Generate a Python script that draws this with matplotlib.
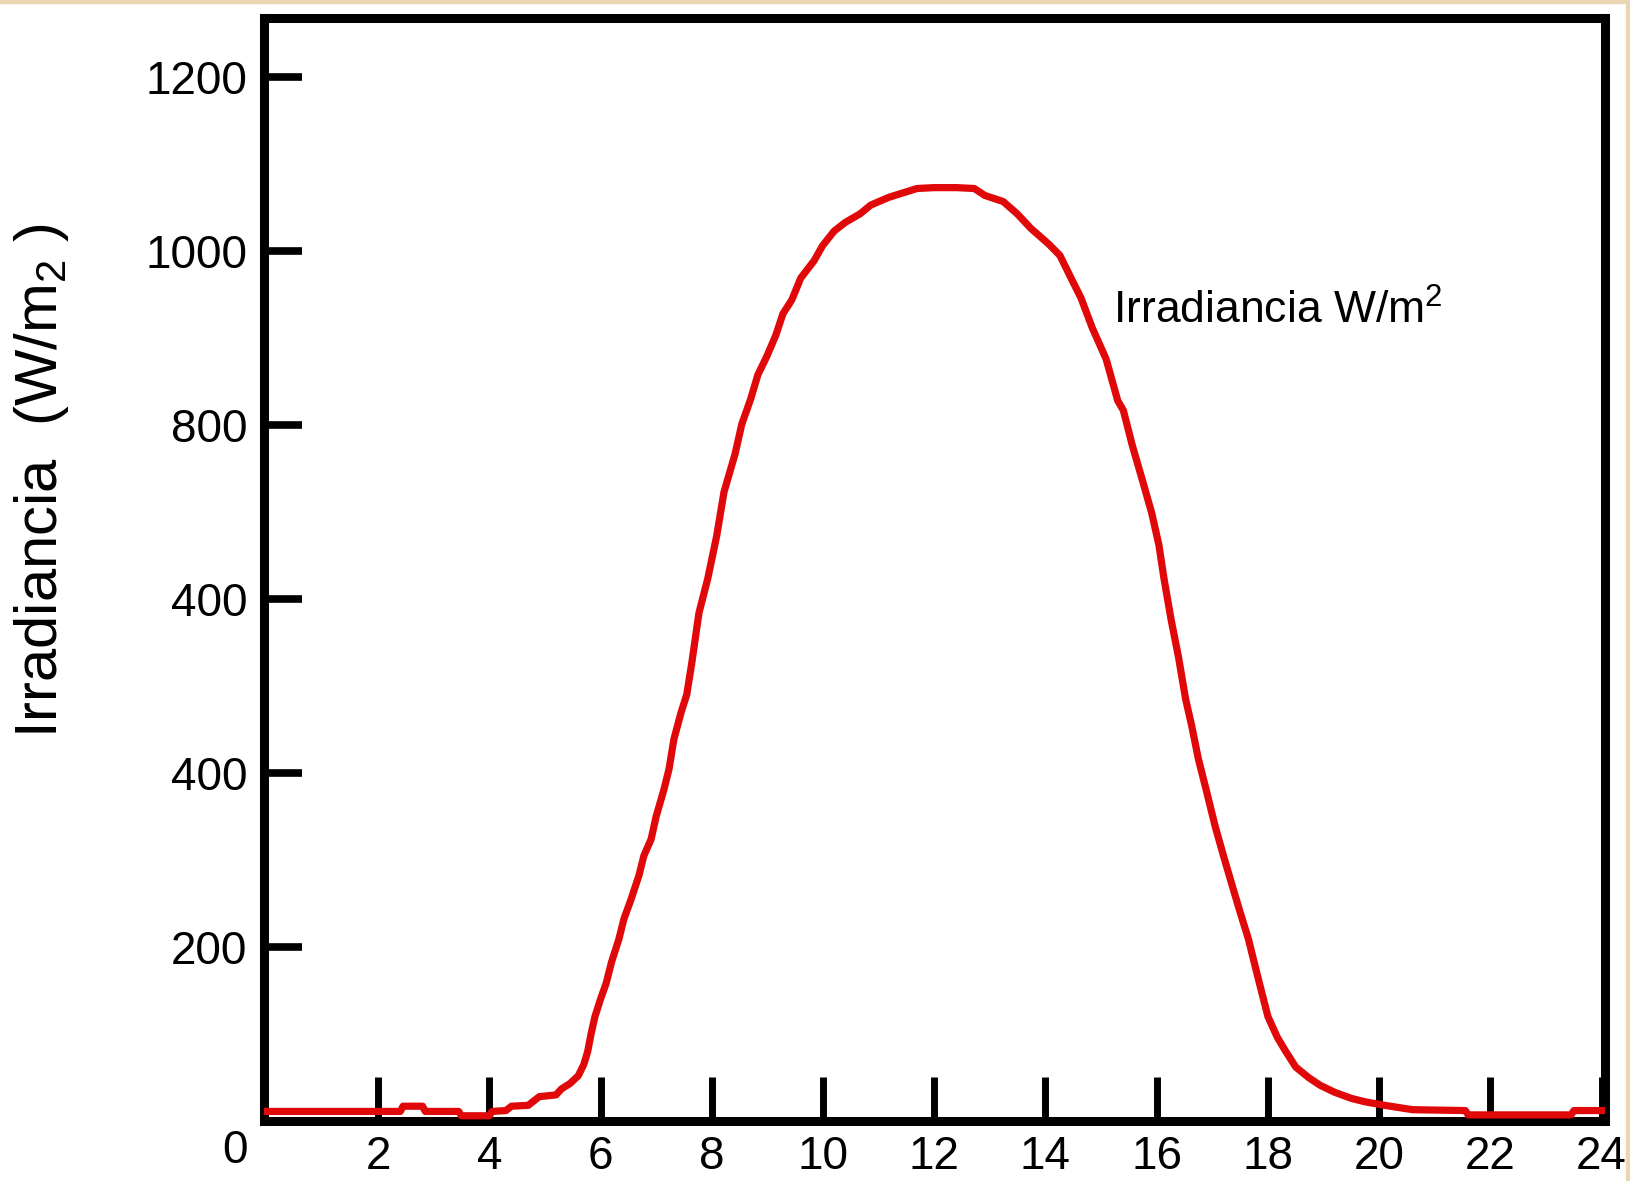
import matplotlib
matplotlib.use("Agg")
import matplotlib.pyplot as plt
from matplotlib.patches import Rectangle
from matplotlib.transforms import ScaledTranslation

plt.rcParams['font.family'] = ['Liberation Sans', 'DejaVu Sans']
plt.rcParams['mathtext.default'] = 'regular'

# hour of day and irradiance (W/m2)
hours = [0.0, 2.0, 2.4, 2.45, 2.8, 2.85, 3.45, 3.5, 4.0, 4.05, 4.3, 4.4, 4.7, 4.8,
         4.9, 5.2, 5.3, 5.45, 5.6, 5.7, 5.77, 5.83, 5.9, 6.0, 6.1, 6.2, 6.33, 6.42,
         6.55, 6.69, 6.78, 6.91, 7.0, 7.14, 7.23, 7.32, 7.45, 7.55, 7.64, 7.77, 7.93,
         8.09, 8.22, 8.42, 8.54, 8.7, 8.83, 8.99, 9.15, 9.28, 9.44, 9.6, 9.84, 9.99,
         10.2, 10.4, 10.67, 10.86, 11.19, 11.44, 11.69, 12.0, 12.4, 12.72, 12.91,
         13.24, 13.49, 13.74, 14.06, 14.26, 14.46, 14.64, 14.84, 15.09, 15.3, 15.4,
         15.56, 15.75, 15.91, 16.04, 16.13, 16.26, 16.39, 16.52, 16.63, 16.75, 16.9,
         17.05, 17.2, 17.36, 17.5, 17.65, 17.75, 17.88, 18.0, 18.17, 18.32, 18.5,
         18.73, 18.94, 19.2, 19.5, 19.75, 20.1, 20.6, 21.55, 21.6, 23.45, 23.5, 24.05]
irradiance = [11, 11, 11, 17, 17, 11, 11, 6, 6, 11, 12, 17, 18, 23,
              28, 30, 37, 43, 52, 65, 80, 100, 120, 140, 158, 183, 209, 232,
              255, 282, 305, 324, 350, 381, 404, 439, 470, 490, 526, 584, 624,
              673, 723, 767, 801, 830, 858, 879, 903, 928, 944, 969, 989, 1006,
              1023, 1033, 1043, 1053, 1062, 1067, 1072, 1073, 1073, 1072, 1064,
              1057, 1043, 1026, 1008, 995, 969, 946, 912, 876, 828, 817,
              777, 735, 699, 662, 624, 576, 534, 485, 454, 416, 378,
              339, 305, 270, 240, 209, 183, 150, 120, 96, 80, 62,
              50, 41, 33, 26, 22, 18, 13, 12, 7, 7, 12, 12]

x_ticks = [2, 4, 6, 8, 10, 12, 14, 16, 18, 20, 22, 24]
y_ticks = [0, 200, 400, 600, 800, 1000, 1200]
y_tick_labels = ['0', '200', '400', '400', '800', '1000', '1200']

fig = plt.figure(figsize=(16.31, 11.81), dpi=100)
ax = fig.add_axes([264 / 1631, 60 / 1181, (1605 - 264) / 1631, (1121 - 18) / 1181])

ax.plot(hours, irradiance, color='#e00808', linewidth=5.2, zorder=3)

ax.set_xlim(-0.05, 24.06)
ax.set_ylim(1, 1268)

ax.set_xticks(x_ticks)
ax.set_xticklabels([str(t) for t in x_ticks])
ax.set_yticks(y_ticks)
ax.set_yticklabels(y_tick_labels)

ax.tick_params(axis='x', direction='in', length=32, width=5, pad=10, labelsize=33)
ax.tick_params(axis='y', direction='in', length=27, width=5.5, pad=12, labelsize=33)

for s in ax.spines.values():
    s.set_linewidth(6.5)
    s.set_color('black')

# the "0" label sits below the corner
zero = ax.get_yticklabels()[0]
zero.set_transform(zero.get_transform() + ScaledTranslation(0, -0.25, fig.dpi_scale_trans))

fig.text(42 / 1631, 1 - 481 / 1181, 'Irradiancia  (W/m$_2$ )', rotation=90,
         ha='center', va='center', fontsize=43)

ax.text(15.22, 916, 'Irradiancia W/m$^2$', fontsize=32, ha='left', va='baseline')

# faint beige edge of the original scan
fig.add_artist(Rectangle((0, 1 - 3 / 1181), 1, 3 / 1181, transform=fig.transFigure,
                         color='#ead6b2', zorder=0))
fig.add_artist(Rectangle((1 - 5 / 1631, 0), 5 / 1631, 1, transform=fig.transFigure,
                         color='#ead6b2', zorder=0))

fig.savefig('out.png', dpi=100)
